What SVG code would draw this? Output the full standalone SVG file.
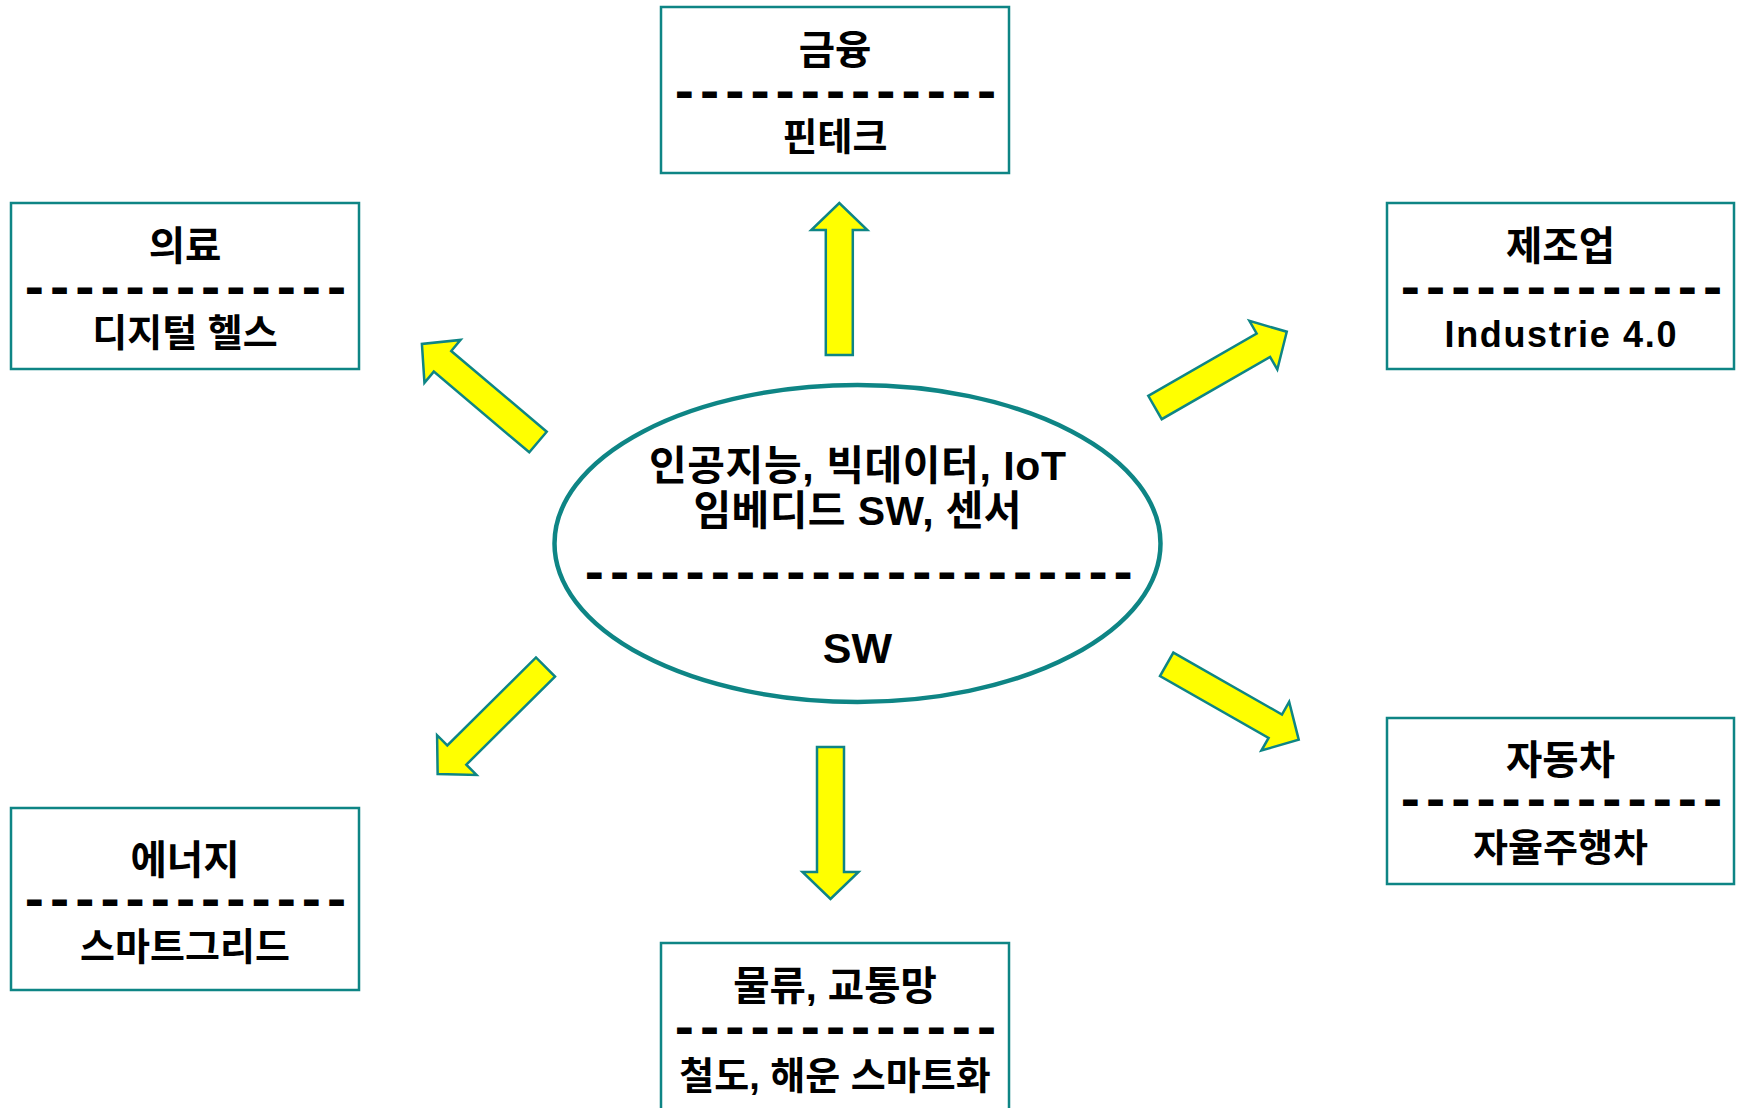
<svg xmlns="http://www.w3.org/2000/svg" width="1737" height="1108" viewBox="0 0 1737 1108">
<style>
.box{fill:#fff;stroke:#0E8585;stroke-width:2.5}
.t{font-family:"Liberation Sans","Noto Sans CJK KR",sans-serif;font-weight:bold;fill:#000;text-anchor:middle}
.h{font-size:39.5px}
.s{font-size:38px}
.d{font-family:"Liberation Sans",sans-serif;font-weight:bold;font-size:20px;letter-spacing:9.08px;fill:#000;stroke:#000;stroke-width:4;stroke-linejoin:miter}
.e{font-size:41px}
.arr{fill:#FFFF00;stroke:#0E8585;stroke-width:2.5;stroke-linejoin:miter}
</style>
<defs>
<path id="ar" d="M0,-13.5 L125,-13.5 L125,-28 L152,0 L125,28 L125,13.5 L0,13.5 Z"/>
</defs>
<rect width="1737" height="1108" fill="#fff"/>
<g id="connectors">
<use href="#ar" class="arr" transform="translate(839.3,355) rotate(-90)"/>
<use href="#ar" class="arr" transform="translate(830.5,747) rotate(90)"/>
<use href="#ar" class="arr" transform="translate(538,442) rotate(-139.8)"/>
<use href="#ar" class="arr" transform="translate(1155,407.5) rotate(-29.9)"/>
<use href="#ar" class="arr" transform="translate(545.5,667) rotate(135.2)"/>
<use href="#ar" class="arr" transform="translate(1166.7,664.3) rotate(29.7)"/>
</g>
<g id="center">
<ellipse cx="857.5" cy="543.5" rx="303" ry="158.5" fill="#fff" stroke="#0E8585" stroke-width="4.5"/>
<text class="t e" x="857.5" y="480" textLength="417">인공지능, 빅데이터, IoT</text>
<text class="t e" x="857.5" y="525" textLength="328">임베디드 SW, 센서</text>
<text class="d" transform="translate(589.1,580.5) scale(1.6,1)">----------------------</text>
<text class="t" x="857.5" y="663" font-size="43">SW</text>
</g>
<g id="finance">
<rect class="box" x="661" y="7" width="348" height="166"/>
<text class="t h" x="835" y="64">금융</text>
<text class="d" transform="translate(679.1,99.5) scale(1.6,1)">-------------</text>
<text class="t s" x="835" y="150">핀테크</text>
</g>
<g id="medical">
<rect class="box" x="11" y="203" width="348" height="166"/>
<text class="t h" x="185" y="260">의료</text>
<text class="d" transform="translate(29.1,295.5) scale(1.6,1)">-------------</text>
<text class="t s" x="185" y="346">디지털 헬스</text>
</g>
<g id="manufacturing">
<rect class="box" x="1387" y="203" width="347" height="166"/>
<text class="t h" x="1560.5" y="260">제조업</text>
<text class="d" transform="translate(1405.1,295.5) scale(1.6,1)">-------------</text>
<text class="t" x="1560.5" y="347" font-size="36" textLength="232">Industrie 4.0</text>
</g>
<g id="automotive">
<rect class="box" x="1387" y="718" width="347" height="166"/>
<text class="t h" x="1560.5" y="774">자동차</text>
<text class="d" transform="translate(1405.1,807.5) scale(1.6,1)">-------------</text>
<text class="t s" x="1560.5" y="861">자율주행차</text>
</g>
<g id="energy">
<rect class="box" x="11" y="808" width="348" height="182"/>
<text class="t h" x="185" y="874">에너지</text>
<text class="d" transform="translate(29.1,907.5) scale(1.6,1)">-------------</text>
<text class="t s" x="185" y="960">스마트그리드</text>
</g>
<g id="logistics">
<rect class="box" x="661" y="943" width="348" height="200"/>
<text class="t h" x="835" y="1000">물류, 교통망</text>
<text class="d" transform="translate(679.1,1035.5) scale(1.6,1)">-------------</text>
<text class="t s" x="835" y="1089">철도, 해운 스마트화</text>
</g>
</svg>
